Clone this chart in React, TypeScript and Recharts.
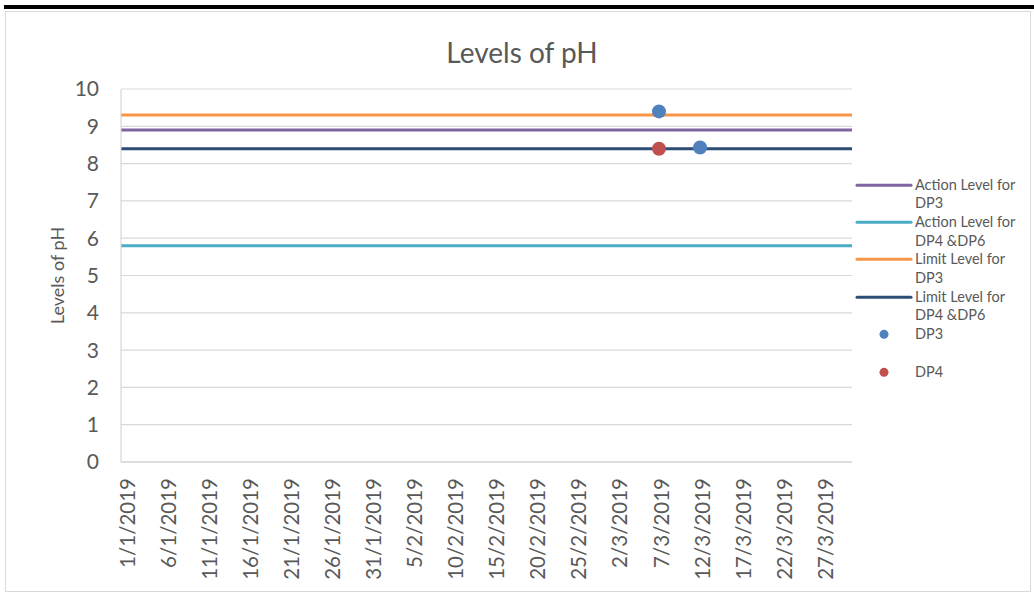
import { CartesianGrid, ComposedChart, Line, Scatter, XAxis, YAxis } from "recharts";

// x axis labels (every 5th day, d/m/yyyy as in the source sheet)
const tickDates = [
  "1/1/2019", "6/1/2019", "11/1/2019", "16/1/2019", "21/1/2019", "26/1/2019",
  "31/1/2019", "5/2/2019", "10/2/2019", "15/2/2019", "20/2/2019", "25/2/2019",
  "2/3/2019", "7/3/2019", "12/3/2019", "17/3/2019", "22/3/2019", "27/3/2019",
];
const axisStart = "1/1/2019";
const axisEnd = "31/3/2019";
const yTicks = [0, 1, 2, 3, 4, 5, 6, 7, 8, 9, 10];

// reference levels
const actionLevelDP3 = 8.9;
const actionLevelDP4DP6 = 5.8;
const limitLevelDP3 = 9.3;
const limitLevelDP4DP6 = 8.4;

// measured values
const dp3Dates = ["7/3/2019", "12/3/2019"];
const dp3Values = [9.4, 8.43];
const dp4Dates = ["7/3/2019"];
const dp4Values = [8.4];

const TEXT = "#595959";
const GRID = "#d9d9d9";
const FONT = "Lato, 'Open Sans', sans-serif";

function dayIndex(date: string) {
  const [d, m, y] = date.split("/").map(Number);
  return Math.round((Date.UTC(y, m - 1, d) - Date.UTC(2019, 0, 1)) / 86400000);
}

const xMin = dayIndex(axisStart);
const xMax = dayIndex(axisEnd);
const tickLabel = new Map(tickDates.map((d) => [dayIndex(d) + 0.5, d]));
const xTicks = Array.from(tickLabel.keys());

const levelLine = (value: number) => [
  { x: xMin, y: value },
  { x: xMax, y: value },
];
const points = (dates: string[], values: number[]) => dates.map((d, i) => ({ x: dayIndex(d) + 0.5, y: values[i] }));

const levels = [
  { name: "Action Level for DP3", value: actionLevelDP3, color: "#8064A2" },
  { name: "Action Level for DP4 &DP6", value: actionLevelDP4DP6, color: "#4BACC6" },
  { name: "Limit Level for DP3", value: limitLevelDP3, color: "#F79646" },
  { name: "Limit Level for DP4 &DP6", value: limitLevelDP4DP6, color: "#2C4D75" },
];
const samples = [
  { name: "DP3", data: points(dp3Dates, dp3Values), color: "#4F81BD" },
  { name: "DP4", data: points(dp4Dates, dp4Values), color: "#C0504D" },
];

const legendItems = [
  ...levels.map((l) => ({ name: l.name, color: l.color, type: "line" })),
  ...samples.map((s) => ({ name: s.name, color: s.color, type: "circle" })),
];

function ChartLegend() {
  return (
    <div style={{ position: "absolute", left: 855, top: 175.6, width: 178, fontFamily: FONT, fontSize: 14.5, color: TEXT }}>
      {legendItems.map((entry) => (
        <div key={entry.name} style={{ display: "flex", height: 37.4, alignItems: "flex-start" }}>
          <svg width={60} height={18.7} style={{ flex: "none" }}>
            {entry.type === "circle" ? (
              <circle cx={29} cy={9.35} r={4.5} fill={entry.color} />
            ) : (
              <line x1={2} x2={56} y1={9.35} y2={9.35} stroke={entry.color} strokeWidth={3} strokeLinecap="round" />
            )}
          </svg>
          <div style={{ lineHeight: "18.7px", whiteSpace: "pre-line" }}>{entry.name.replace(" for ", " for\n")}</div>
        </div>
      ))}
    </div>
  );
}

export default function App() {
  return (
    <div style={{ position: "absolute", left: 0, top: 0, width: 1034, height: 597, background: "#fff" }}>
      <div style={{ position: "absolute", left: 4, top: 5, width: 1030, height: 4, background: "#000" }} />
      <div style={{ position: "absolute", left: 5, top: 11, width: 1024, height: 579, border: "1px solid #d9d9d9" }} />
      <div
        style={{
          position: "absolute", left: 0, width: 1044, top: 34, lineHeight: "36px",
          textAlign: "center", fontFamily: FONT, fontSize: 28, color: TEXT,
        }}
      >
        Levels of pH
      </div>
      <ComposedChart width={1034} height={597} margin={{ top: 89, right: 182, bottom: 0, left: 0 }} style={{ position: "absolute", left: 0, top: 0 }}>
        <CartesianGrid vertical={false} stroke={GRID} strokeWidth={1.2} />
        <XAxis
          type="number"
          dataKey="x"
          domain={[xMin, xMax]}
          ticks={xTicks}
          interval={0}
          allowDataOverflow
          height={135}
          tickFormatter={(v) => tickLabel.get(v) ?? ""}
          angle={-90}
          textAnchor="end"
          tickSize={0}
          tickMargin={16}
          tickLine={false}
          axisLine={{ stroke: "#cfcfcf" }}
          tick={{ fill: TEXT, fontSize: 20.5, fontFamily: FONT, dx: -5 }}
        />
        <YAxis
          type="number"
          domain={[0, 10]}
          ticks={yTicks}
          interval={0}
          width={121}
          tickSize={0}
          tickMargin={22}
          tickLine={false}
          axisLine={{ stroke: "#cfcfcf" }}
          tick={{ fill: TEXT, fontSize: 21, fontFamily: FONT }}
          label={{
            content: ({ viewBox }: any) => (
              <text
                x={57}
                y={viewBox.y + viewBox.height / 2}
                transform={`rotate(-90, 57, ${viewBox.y + viewBox.height / 2})`}
                textAnchor="middle"
                dominantBaseline="central"
                fill={TEXT}
                fontSize={18}
                fontFamily={FONT}
              >
                Levels of pH
              </text>
            ),
          }}
        />
        {levels.map((lv) => (
          <Line
            key={lv.name}
            name={lv.name}
            data={levelLine(lv.value)}
            dataKey="y"
            stroke={lv.color}
            strokeWidth={3}
            dot={false}
            activeDot={false}
            isAnimationActive={false}
          />
        ))}
        {samples.map((s) => (
          <Scatter
            key={s.name}
            name={s.name}
            data={s.data}
            dataKey="y"
            fill={s.color}
            isAnimationActive={false}
            shape={(p: any) => <circle cx={p.cx} cy={p.cy} r={7} fill={s.color} />}
          />
        ))}
      </ComposedChart>
      <ChartLegend />
    </div>
  );
}
